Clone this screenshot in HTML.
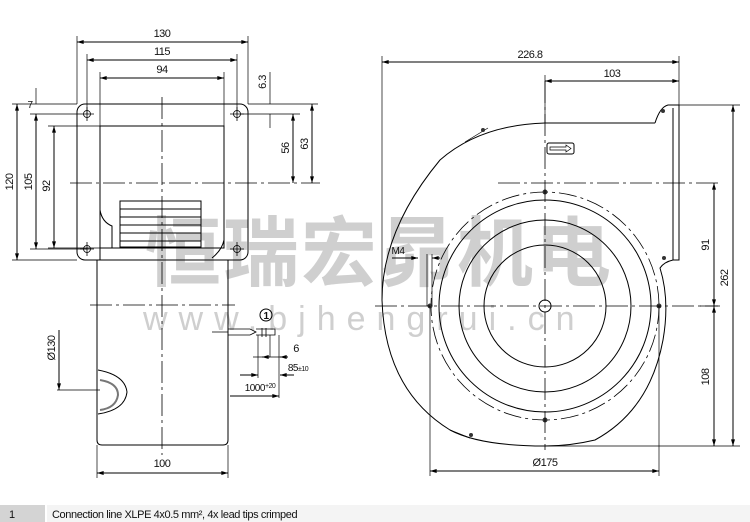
<!DOCTYPE html>
<html><head><meta charset="utf-8"><style>
html,body{margin:0;padding:0;background:#fff;width:750px;height:522px;overflow:hidden}
svg{display:block}
text{font-family:"Liberation Sans",Arial,sans-serif;fill:#111}
</style></head><body>
<svg width="750" height="522" viewBox="0 0 750 522" xmlns="http://www.w3.org/2000/svg">
<defs>
<marker id="a" viewBox="0 0 10 6" refX="10" refY="3" markerWidth="7" markerHeight="4" orient="auto-start-reverse"><path d="M0,0L10,3L0,6z" fill="#000"/></marker>
</defs>
<!-- watermark -->
<text x="145" y="280" font-size="76" font-weight="bold" style="font-family:'Noto Sans CJK SC','WenQuanYi Zen Hei',sans-serif;fill:#cfcfcf;letter-spacing:2px">恒瑞宏昴机电</text>
<text x="143" y="330" font-size="34" style="fill:#cfcfcf;letter-spacing:11px">www.bjhengrui.cn</text>

<g stroke="#000" stroke-width="1" fill="none">
<!-- LEFT VIEW -->
<rect x="77" y="104" width="171" height="156" rx="8"/>
<path d="M100,260 V126 H224 V248 H100"/>
<path d="M224,240 Q222,250 212,258"/>
<path d="M100,210 Q102,222 112,226 V248"/>
<rect x="120" y="201" width="81" height="46"/>
<path d="M120,209H201M120,217H201M120,225H201M120,233H201M120,241H201"/>
<g stroke-width="0.8">
<circle cx="87" cy="114" r="3.5"/><circle cx="237" cy="114" r="3.5"/><circle cx="87" cy="249" r="3.5"/><circle cx="237" cy="249" r="3.5"/>
<path d="M80,114h14M237,107v14M80,249h14M87,242v14M230,249h14M237,242v14M230,114h14M87,107v14"/>
</g>
<!-- body -->
<path d="M97,260 V440 Q97,445 102,445 H223 Q228,445 228,440 V260"/>
<path d="M98,370 Q125,375 127,392 Q125,410 98,414" />
<path d="M100,380 Q118,383 118,395 Q116,408 100,410" stroke-width="2" stroke="#777"/>
<!-- centerlines -->
<path d="M162,97 V455" stroke-dasharray="22,4,3,4" stroke-width="0.8"/>
<path d="M70,183 H320" stroke-dasharray="22,4,3,4" stroke-width="0.8"/>
<path d="M90,305 H235" stroke-dasharray="22,4,3,4" stroke-width="0.8"/>
<!-- dims top -->
<path d="M77,104V36M248,104V36M87,114V54M237,114V54M100,126V72M224,126V72" stroke-width="0.7"/>
<path d="M77,42H248" marker-start="url(#a)" marker-end="url(#a)"/>
<path d="M87,60H237" marker-start="url(#a)" marker-end="url(#a)"/>
<path d="M100,78H224" marker-start="url(#a)" marker-end="url(#a)"/>
<!-- dims left -->
<path d="M77,104H12M80,114H30M100,126H48M77,260H12M87,249H30M100,248H48" stroke-width="0.7"/>
<path d="M17,104V260" marker-start="url(#a)" marker-end="url(#a)"/>
<path d="M36,114V249" marker-start="url(#a)" marker-end="url(#a)"/>
<path d="M54,126V248" marker-start="url(#a)" marker-end="url(#a)"/>
<path d="M36,88V104M36,114V126" stroke-width="0.7"/>
<!-- dims right -->
<path d="M248,104H318M240,114H300" stroke-width="0.7"/>
<path d="M312,104V183" marker-start="url(#a)" marker-end="url(#a)"/>
<path d="M293,114V183" marker-start="url(#a)" marker-end="url(#a)"/>
<path d="M270,72V104M270,114V128" stroke-width="0.7"/>
<!-- Ø130 -->
<path d="M59,330V390" marker-end="url(#a)"/>
<path d="M57,390H100" stroke-width="0.7"/>
<!-- 100 -->
<path d="M97,445V478M228,445V478" stroke-width="0.7"/>
<path d="M97,473H228" marker-start="url(#a)" marker-end="url(#a)"/>
<!-- cable -->
<path d="M212,332H228M228,329H250L256,332L250,335H228M256,329H275V335H256M262,328V337M266,328V337" stroke-width="0.8"/>
<circle cx="266" cy="315" r="6"/>
<path d="M258,335V378M270,335V357M279,335V398" stroke-width="0.7"/>
<path d="M253,357H287" stroke-width="0.7"/><path d="M270,357H262" marker-end="url(#a)"/><path d="M288,357H280" marker-end="url(#a)"/>
<path d="M240,375H258" marker-end="url(#a)"/><path d="M294,375H280" marker-end="url(#a)"/>
<path d="M230,396H279" marker-end="url(#a)"/>

<!-- RIGHT VIEW -->
<path d="M545,123 H655 M655,123 Q660,107 668,105 H679 V260 H673 V108"/>
<path d="M673,260 Q664,262 660,268 Q670,300 663,340 Q650,410 595,440 Q570,446 545,446 Q480,446 450,430 Q385,390 382,300 Q382,230 440,160 Q480,125 545,123"/>
<path d="M488,128 L465,142 M450,430 L470,438" stroke-width="0.7"/>
<circle cx="545" cy="306" r="114" stroke-dasharray="18,4,3,4" stroke-width="0.8"/>
<circle cx="545" cy="306" r="106"/>
<circle cx="545" cy="306" r="86"/>
<circle cx="545" cy="306" r="61"/>
<circle cx="545" cy="306" r="6"/>
<g fill="#333" stroke="none"><circle cx="545" cy="192" r="2.5"/><circle cx="545" cy="420" r="2.5"/><circle cx="430" cy="306" r="2.5"/><circle cx="659" cy="306" r="2.5"/><circle cx="663" cy="111" r="2"/><circle cx="664" cy="258" r="2"/><circle cx="483" cy="130" r="2"/><circle cx="471" cy="435" r="2"/></g>
<path d="M375,306H718M545,81V450" stroke-dasharray="22,4,3,4" stroke-width="0.8"/>
<path d="M498,183H718" stroke-dasharray="22,4,3,4" stroke-width="0.8"/>
<rect x="547" y="143" width="27" height="11" rx="2"/>
<path d="M550,147H566V145L571,148.5L566,152V150H550Z" stroke-width="0.7"/>
<!-- M4 -->
<path d="M392,258H418" marker-end="url(#a)"/><path d="M440,258H432" marker-end="url(#a)"/>
<path d="M427,254V306M432,254V306" stroke-width="0.7"/>
<!-- dims -->
<path d="M382,300V56M679,105V56M545,123V75" stroke-width="0.7"/>
<path d="M382,62H679" marker-start="url(#a)" marker-end="url(#a)"/>
<path d="M545,81H679" marker-start="url(#a)" marker-end="url(#a)"/>
<path d="M679,105H740M545,446H740M700,306H720" stroke-width="0.7"/>
<path d="M733,105V446" marker-start="url(#a)" marker-end="url(#a)"/>
<path d="M714,183V306" marker-start="url(#a)" marker-end="url(#a)"/>
<path d="M714,306V446" marker-start="url(#a)" marker-end="url(#a)"/>
<path d="M430,306V476M659,306V476" stroke-width="0.7"/>
<path d="M430,471H659" marker-start="url(#a)" marker-end="url(#a)"/>
</g>

<g font-size="11" text-anchor="middle" style="letter-spacing:-0.5px">
<text x="162" y="37">130</text><text x="162" y="55">115</text><text x="162" y="73">94</text>
<text x="30" y="108" font-size="10">7</text>
<text transform="translate(13,182) rotate(-90)">120</text>
<text transform="translate(32,182) rotate(-90)">105</text>
<text transform="translate(50,186) rotate(-90)">92</text>
<text transform="translate(266,82) rotate(-90)">6.3</text>
<text transform="translate(289,148) rotate(-90)">56</text>
<text transform="translate(308,144) rotate(-90)">63</text>
<text transform="translate(55,348) rotate(-90)">Ø130</text>
<text x="162" y="467">100</text>
<text x="266" y="319" font-size="10" font-weight="bold">1</text>
<text x="296" y="352">6</text>
<text x="298" y="371" font-size="10">85<tspan font-size="7">±10</tspan></text>
<text x="260" y="391" font-size="10">1000<tspan font-size="7" dy="-3">+20</tspan></text>
<text x="530" y="58">226.8</text><text x="612" y="77">103</text>
<text x="398" y="254" font-size="10">M4</text>
<text transform="translate(709,245) rotate(-90)">91</text>
<text transform="translate(728,278) rotate(-90)">262</text>
<text transform="translate(709,377) rotate(-90)">108</text>
<text x="545" y="466">Ø175</text>
</g>

<!-- footer -->
<rect x="0" y="505" width="45" height="17" fill="#d4d4d4"/>
<rect x="47" y="505" width="703" height="17" fill="#f4f4f4"/>
<text x="9" y="518" font-size="11">1</text>
<text x="52" y="518" font-size="11" style="letter-spacing:-0.4px">Connection line XLPE 4x0.5 mm², 4x lead tips crimped</text>
</svg>
</body></html>
